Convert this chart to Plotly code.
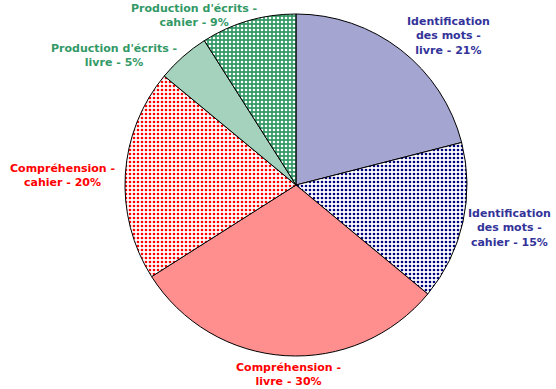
import plotly.graph_objects as go

# Data
categories = [
    "Identification des mots - livre",
    "Identification des mots - cahier",
    "Compréhension - livre",
    "Compréhension - cahier",
    "Production d'écrits - livre",
    "Production d'écrits - cahier",
]
label_lines = [
    "Identification<br>des mots -<br>livre - 21%",
    "Identification<br>des mots -<br>cahier - 15%",
    "Compréhension -<br>livre - 30%",
    "Compréhension -<br>cahier - 20%",
    "Production d'écrits -<br>livre - 5%",
    "Production d'écrits -<br>cahier - 9%",
]
values = [21, 15, 30, 20, 5, 9]

# Styles
BLUE = "#333399"
NAVY = "#000080"
RED = "#ff0000"
GREEN = "#339966"
text_colors = [BLUE, BLUE, RED, RED, GREEN, GREEN]
fg_colors = [BLUE, NAVY, RED, RED, GREEN, "#ffffff"]
bg_colors = ["#ffffff", "#ffffff", "#ffffff", "#ffffff", "#ffffff", GREEN]
pat_sizes = [2, 4, 2, 4, 2, 4]
pat_solid = [0.5, 0.35, 0.5, 0.35, 0.5, 0.35]
# label positions in pixels (center of text block)
label_px = [(448, 36), (509, 228), (288, 374), (62, 175), (114, 56), (194, 15)]

W, H = 556, 389
cx, cy, r = 296, 185, 171

fig = go.Figure(go.Pie(
    labels=categories,
    values=values,
    sort=False,
    direction="clockwise",
    rotation=0,
    textinfo="none",
    hoverinfo="label+percent",
    marker=dict(
        colors=bg_colors,
        line=dict(color="#000000", width=1),
        pattern=dict(shape=["."] * 6, fgcolor=fg_colors, bgcolor=bg_colors,
                     size=pat_sizes, solidity=pat_solid, fillmode="replace"),
    ),
    domain=dict(x=[(cx - r) / W, (cx + r) / W], y=[(H - cy - r) / H, (H - cy + r) / H]),
    showlegend=False,
))

for txt, col, (px, py) in zip(label_lines, text_colors, label_px):
    fig.add_annotation(
        x=px / W, y=1 - py / H, xref="paper", yref="paper",
        text=txt, showarrow=False, xanchor="center", yanchor="middle",
        align="center",
        font=dict(family="DejaVu Sans", size=11, color=col, weight="bold"),
    )

fig.update_layout(
    width=W, height=H,
    margin=dict(l=0, r=0, t=0, b=0),
    paper_bgcolor="#ffffff",
    plot_bgcolor="#ffffff",
)
fig.write_html("out.html", config={"displayModeBar": False},
               post_script="document.body.style.margin='0';")
